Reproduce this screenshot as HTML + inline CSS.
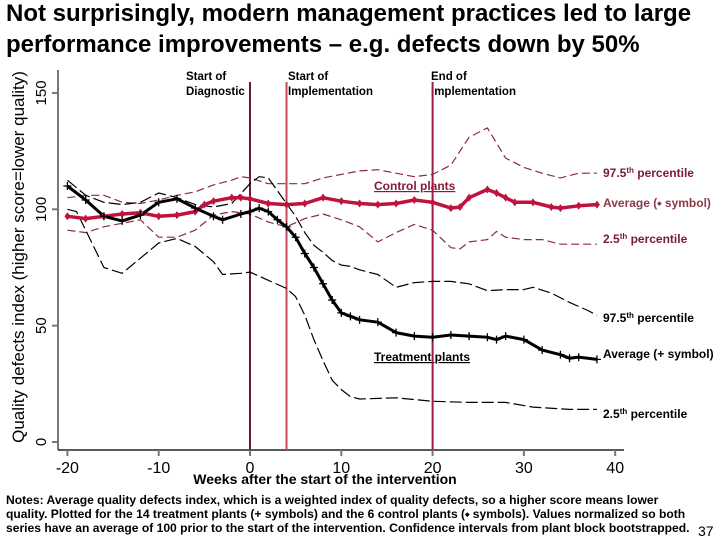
<!DOCTYPE html>
<html><head><meta charset="utf-8"><style>
body{margin:0;background:#fff;width:720px;height:540px;overflow:hidden;font-family:"Liberation Sans",sans-serif}
svg{position:absolute;left:0;top:0}
</style></head><body>
<svg id="c" width="720" height="540">
<text x="6" y="21" font-size="24" font-weight="bold">Not surprisingly, modern management practices led to large</text>
<text x="6" y="52" font-size="24" font-weight="bold">performance improvements – e.g. defects down by 50%</text>
<text transform="translate(24,257) rotate(-90)" text-anchor="middle" font-size="17">Quality defects index (higher score=lower quality)</text>
<text x="325" y="484" text-anchor="middle" font-size="14" font-weight="bold">Weeks after the start of the intervention</text>
<g font-size="12.1" font-weight="bold">
<text x="6" y="504">Notes: Average quality defects index, which is a weighted index of quality defects, so a higher score means lower</text>
<text x="6" y="518">quality. Plotted for the 14 treatment plants (+ symbols) and the 6 control plants (⬩ symbols). Values normalized so both</text>
<text x="6" y="532">series have an average of 100 prior to the start of the intervention. Confidence intervals from plant block bootstrapped.</text>
</g>
<text x="698" y="536" font-size="14">37</text>
<g font-size="11.5" font-weight="bold">
<text x="186" y="80">Start of</text><text x="186" y="95">Diagnostic</text>
<text x="288" y="80">Start of</text><text x="288" y="95">Implementation</text>
<text x="431" y="80">End of</text><text x="431" y="95">Implementation</text>
</g>
<g font-size="12" font-weight="bold">
<text x="603" y="177" fill="#7a1a3a">97.5<tspan font-size="8" dy="-4">th</tspan><tspan dy="4"> percentile</tspan></text>
<text x="603" y="207" fill="#8a3a4a">Average (⬩ symbol)</text>
<text x="603" y="243" fill="#7a1a3a">2.5<tspan font-size="8" dy="-4">th</tspan><tspan dy="4"> percentile</tspan></text>
<text x="603" y="322">97.5<tspan font-size="8" dy="-4">th</tspan><tspan dy="4"> percentile</tspan></text>
<text x="603" y="358">Average (+ symbol)</text>
<text x="603" y="418">2.5<tspan font-size="8" dy="-4">th</tspan><tspan dy="4"> percentile</tspan></text>
<text x="374" y="190" fill="#8a1a3a" text-decoration="underline">Control plants</text>
<text x="374" y="361" text-decoration="underline">Treatment plants</text>
</g>
</svg>
<script>
const xTicks=[-20,-10,0,10,20,30,40];
const yTicks=[0,50,100,150];
const events=[0,4,20];
const tAvgX=[-20,-18,-16,-14,-12,-10,-8,-6,-4,-3,-1,0,1,2,3,4,5,6,7,8,9,10,11,12,14,16,18,20,22,24,26,27,28,30,32,34,35,36,38];
const tAvgY=[110,104,97,95,97.5,103,104.5,100.5,97,95.5,98,99,100.5,99,95.5,92.5,88,81,75,68,61,55.5,54,52.5,51.5,47,45.5,45,46,45.5,45,44,45.5,44,39.5,37.5,36,36.5,35.5];
const cAvgX=[-20,-18,-16,-14,-12,-10,-8,-6,-5,-4,-2,-1,0,2,4,6,8,10,12,14,16,18,20,22,23,24,26,27,28,29,31,33,34,36,38];
const cAvgY=[97,96,97,98,98.5,97,97.5,99,102,103.5,105,105,104.5,102.5,102,102.5,105,103.5,102.5,102,102.5,104,103,100.5,101,105,108.5,107,105,103,103,101,100.5,101.5,102];
const tHiX=[-20,-18,-16,-14,-12,-10,-8,-6,-4,-2,0,1,2,3,4,5,6,7,8,9,10,11,12,14,16,18,20,22,24,26,28,30,31,33,35,37,38];
const tHiY=[112.5,106,103,102,103,107,105,102,101,102.5,111,114,113.5,108,102.5,97,90,84.5,81.5,78,76,75.5,74,72,66.5,68.5,69,69,68,65,65.5,65.5,66.5,64,60,56.5,54.5];
const tLoX=[-20,-19,-18,-16,-14,-12,-10,-8,-6,-4,-3,-1,0,2,4,5,6,7,8,9,10,11,12,16,20,24,28,31,35,38];
const tLoY=[100,99,91,75,72.5,79,85.5,87.5,84,77.5,72,72.5,73,69.5,66,62.5,54.5,44,35,26.5,22.5,19.5,18.5,19,17.5,17,17,15,14,14];
const cHiX=[-20,-18,-16,-14,-12,-10,-8,-6,-4,-2,-1,0,2,4,6,8,10,12,14,16,18,20,22,24,26,28,30,32,34,36,38];
const cHiY=[105,106,106,103,102.5,104,106,107.5,110.5,112.5,114,113.5,111,111,111,113.5,115,116.5,117,115.5,114,115,119,131,135,122,118,115.5,113.5,115.5,115.5];
const cLoX=[-20,-18,-16,-14,-12,-10,-8,-6,-4,-2,0,2,4,6,8,10,12,14,16,18,20,22,23,24,26,27,28,30,32,34,38];
const cLoY=[91,90,92.5,94,95.5,88,88,91,97.5,99,98,94.5,92.5,96,98,95.5,92.5,86,90,93.5,91,83.5,83,86,87,90.5,88,87,87,85,85];
const NS='http://www.w3.org/2000/svg';
const svg=document.getElementById('c');
const sx=v=>250+v*9.13, sy=v=>442-v*2.327;
function mk(t,a){const e=document.createElementNS(NS,t);for(const k in a)e.setAttribute(k,a[k]);svg.appendChild(e);return e;}
let ax=mk('line',{x1:58,y1:70,x2:58,y2:450,stroke:'#777','stroke-width':2});


let bx=mk('line',{x1:58,y1:450,x2:624,y2:450,stroke:'#222','stroke-width':1.5});


xTicks.forEach(v=>{
 let l=mk('line',{x1:sx(v),y1:450,x2:sx(v),y2:456,stroke:'#777','stroke-width':2});
 
 
 let t=mk('text',{x:sx(v),y:473,'text-anchor':'middle','font-size':16});t.textContent=v;
 
 
});
yTicks.forEach(v=>{
 let l=mk('line',{x1:52,y1:sy(v),x2:58,y2:sy(v),stroke:'#777','stroke-width':2});
 
 
 let t=mk('text',{x:0,y:0,'text-anchor':'middle','font-size':15,transform:`translate(46,${sy(v)}) rotate(-90)`});t.textContent=v;
 
 
});
const evCol=['#6b1a3a','#c8485e','#a01a40'];
events.forEach((v,i)=>{
 let l=mk('line',{x1:sx(v),y1:82,x2:sx(v),y2:450,stroke:evCol[i],'stroke-width':2});
 
 
});
function line(X,Y,col,w,dash,name){
 const d=X.map((x,i)=>(i?'L':'M')+sx(x).toFixed(1)+','+sy(Y[i]).toFixed(1)).join('');
 const a={d:d,fill:'none',stroke:col,'stroke-width':w,'stroke-linejoin':'round'};
 if(dash)a['stroke-dasharray']=dash;
 let p=mk('path',a);
 
 
 return p;
}
line(cHiX,cHiY,'#8a2a4a',1.2,'8,4','control-97-line');
line(cLoX,cLoY,'#8a2a4a',1.2,'8,4','control-25-line');
line(tHiX,tHiY,'#000',1.2,'12,4','treatment-97-line');
line(tLoX,tLoY,'#000',1.2,'12,4','treatment-25-line');
line(cAvgX,cAvgY,'#c0123e',3.5,null,'control-avg-line');
line(tAvgX,tAvgY,'#000',3,null,'treatment-avg-line');
cAvgX.forEach((x,i)=>{
 const X=sx(x),Y=sy(cAvgY[i]);
 let m=mk('path',{d:`M${X},${Y-4}L${X+3},${Y}L${X},${Y+4}L${X-3},${Y}Z`,fill:'#c0123e'});
 
 
});
tAvgX.forEach((x,i)=>{
 const X=sx(x),Y=sy(tAvgY[i]);
 let m=mk('path',{d:`M${X-4},${Y}H${X+4}M${X},${Y-4}V${Y+4}`,stroke:'#000','stroke-width':1.3});
 
 
});
</script>
</body></html>
